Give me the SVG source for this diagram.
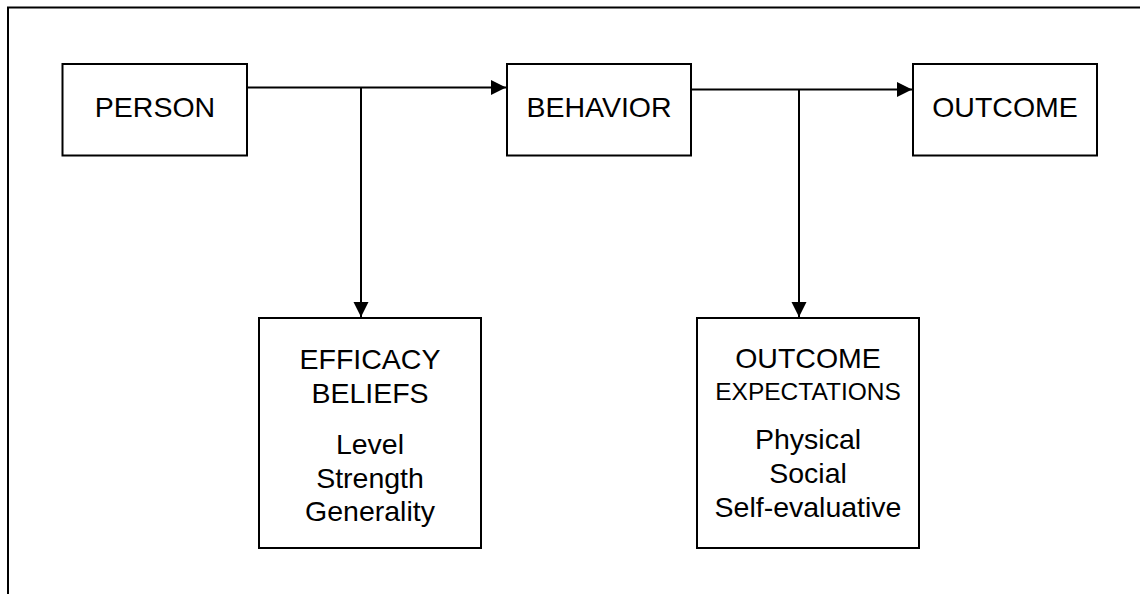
<svg xmlns="http://www.w3.org/2000/svg" width="1140" height="594" viewBox="0 0 1140 594">
<style>
.box{fill:#fff;stroke:#000;stroke-width:2}
.ln{fill:none;stroke:#000;stroke-width:2}
.t{font-family:"Liberation Sans",Arial,sans-serif;font-size:28.5px;fill:#000;text-anchor:middle}
.s{font-size:24.5px}
</style>
<defs>
<marker id="ah" markerUnits="userSpaceOnUse" markerWidth="16" markerHeight="16" viewBox="0 0 16 16" refX="15" refY="8" orient="auto">
<path d="M0,0.5 L15,8 L0,15.5 Z" fill="#000"/>
</marker>
</defs>
<g id="frame">
<path class="ln" d="M8,594 V7.5 H1140"/>
</g>
<g id="connectors">
<path class="ln" d="M247,87.5 H506" marker-end="url(#ah)"/>
<path class="ln" d="M361,87.5 V317" marker-end="url(#ah)"/>
<path class="ln" d="M691,89.5 H912" marker-end="url(#ah)"/>
<path class="ln" d="M799,89.5 V317" marker-end="url(#ah)"/>
</g>
<g id="person">
<rect class="box" x="62.5" y="64" width="184.5" height="91.5"/>
<text class="t" x="155" y="117">PERSON</text>
</g>
<g id="behavior">
<rect class="box" x="507" y="64" width="184" height="91.5"/>
<text class="t" x="599" y="117">BEHAVIOR</text>
</g>
<g id="outcome">
<rect class="box" x="913" y="64" width="184" height="91.5"/>
<text class="t" x="1005" y="117">OUTCOME</text>
</g>
<g id="efficacy">
<rect class="box" x="259" y="318" width="222" height="230"/>
<text class="t" x="370" y="369">EFFICACY</text>
<text class="t" x="370" y="403">BELIEFS</text>
<text class="t" x="370" y="453.5">Level</text>
<text class="t" x="370" y="487.5">Strength</text>
<text class="t" x="370" y="521">Generality</text>
</g>
<g id="expectations">
<rect class="box" x="697" y="318" width="222" height="230"/>
<text class="t" x="808" y="368">OUTCOME</text>
<text class="t s" x="808" y="400">EXPECTATIONS</text>
<text class="t" x="808" y="449">Physical</text>
<text class="t" x="808" y="483">Social</text>
<text class="t" x="808" y="516.5">Self-evaluative</text>
</g>
</svg>
